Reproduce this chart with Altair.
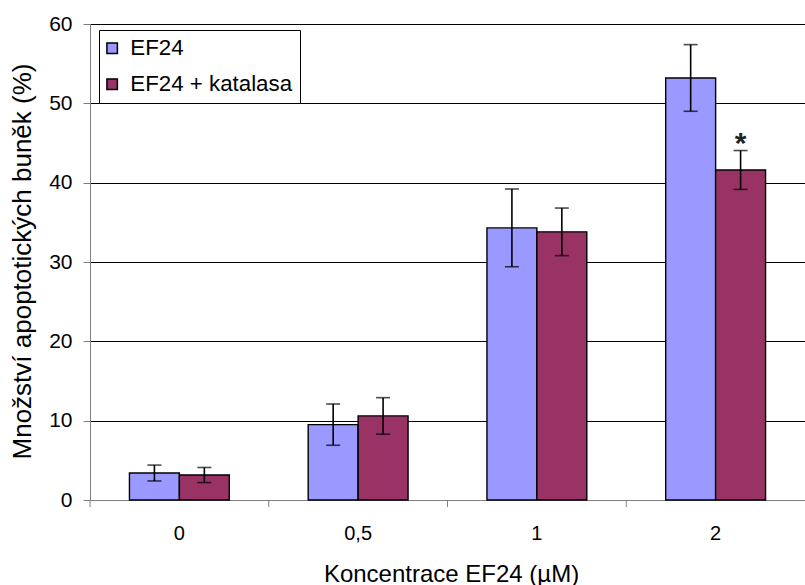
import altair as alt
import pandas as pd

# Apoptotic cell fraction after EF24 treatment, with and without catalase
concentrations = ["0", "0,5", "1", "2"]
series_names = ["EF24", "EF24 + katalasa"]
ef24_mean = [3.4, 9.5, 34.3, 53.2]
ef24_err = [1.0, 2.6, 4.9, 4.2]
kat_mean = [3.15, 10.6, 33.8, 41.6]
kat_err = [0.95, 2.3, 3.0, 2.45]
kat_signif = ["", "", "", "*"]
y_ticks = [0, 10, 20, 30, 40, 50, 60]
colors = ["#9999FF", "#993366"]

rows = []
for i, c in enumerate(concentrations):
    rows.append({"conc": c, "serie": series_names[0], "value": ef24_mean[i],
                 "lo": ef24_mean[i] - ef24_err[i], "hi": ef24_mean[i] + ef24_err[i], "sig": ""})
    rows.append({"conc": c, "serie": series_names[1], "value": kat_mean[i],
                 "lo": kat_mean[i] - kat_err[i], "hi": kat_mean[i] + kat_err[i], "sig": kat_signif[i]})
df = pd.DataFrame(rows)
cats = pd.DataFrame({"conc": concentrations})

FONT = "Liberation Sans"
W, H = 715, 476

x_enc = alt.X(
    "conc:N", sort=concentrations,
    scale=alt.Scale(paddingInner=0, paddingOuter=0),
    axis=alt.Axis(title="Koncentrace EF24 (µM)", labelAngle=0, ticks=False, grid=False,
                  domainColor="#808080", domainWidth=1, labelFontSize=20, labelPadding=23,
                  labelColor="#000", titleFontSize=24, titleFontWeight="normal",
                  titleColor="#000", titleY=62, titleX=361),
)
xoff = alt.XOffset("serie:N", sort=series_names,
                   scale=alt.Scale(paddingInner=0, paddingOuter=0.79))
y_scale = alt.Scale(domain=[0, 60], nice=False)

base = alt.Chart(df)

bars = base.mark_bar(stroke="black", strokeWidth=1.4).encode(
    x=x_enc,
    xOffset=xoff,
    y=alt.Y("value:Q", scale=y_scale,
            axis=alt.Axis(title="Množství apoptotických buněk (%)", values=y_ticks,
                          grid=True, gridColor="#000", gridWidth=1,
                          domainColor="#808080", tickColor="#808080", tickSize=7,
                          labelFontSize=21, labelPadding=11, labelColor="#000",
                          titleFontSize=26, titleFontWeight="normal", titleColor="#000",
                          titleX=-55, titleY=237, titleLimit=0)),
    color=alt.Color("serie:N", sort=series_names,
                    scale=alt.Scale(domain=series_names, range=colors),
                    legend=alt.Legend(title=None, orient="none", legendX=9, legendY=6,
                                      symbolType="square", symbolSize=110,
                                      symbolStrokeColor="black", symbolStrokeWidth=1.5,
                                      symbolOpacity=1, symbolOffset=-5,
                                      labelFontSize=22.3, labelColor="#000", labelLimit=0,
                                      labelOffset=7, rowPadding=13, padding=7,
                                      strokeColor="black", fillColor="white")),
)

err_rule = base.mark_rule(color="black", strokeWidth=1.6).encode(
    x=alt.X("conc:N", sort=concentrations),
    xOffset=xoff,
    y="lo:Q",
    y2="hi:Q",
)
cap_lo = base.mark_tick(color="black", size=14, thickness=1.6, orient="horizontal").encode(
    x=alt.X("conc:N", sort=concentrations), xOffset=xoff, y="lo:Q")
cap_hi = base.mark_tick(color="black", size=14, thickness=1.6, orient="horizontal").encode(
    x=alt.X("conc:N", sort=concentrations), xOffset=xoff, y="hi:Q")

star = base.mark_text(fontSize=30, fontWeight="bold", baseline="alphabetic", dy=2,
                      color="#222").encode(
    x=alt.X("conc:N", sort=concentrations), xOffset=xoff, y="hi:Q", text="sig:N")

# category separator ticks below the x axis
sep_ticks = alt.Chart(cats).mark_rule(color="#808080", strokeWidth=1).encode(
    x=alt.X("conc:N", sort=concentrations, bandPosition=0),
    y=alt.value(H),
    y2=alt.value(H + 7),
)

chart = alt.layer(bars, err_rule, cap_lo, cap_hi, star, sep_ticks).properties(
    width=W, height=H,
    autosize=alt.AutoSizeParams(type="none"),
    padding={"left": 90, "top": 24, "right": 0, "bottom": 85},
).configure(font=FONT).configure_view(stroke=None).configure_axis(labelFont=FONT, titleFont=FONT)

chart.save("out.html", embed_options={"renderer": "svg", "actions": False})
